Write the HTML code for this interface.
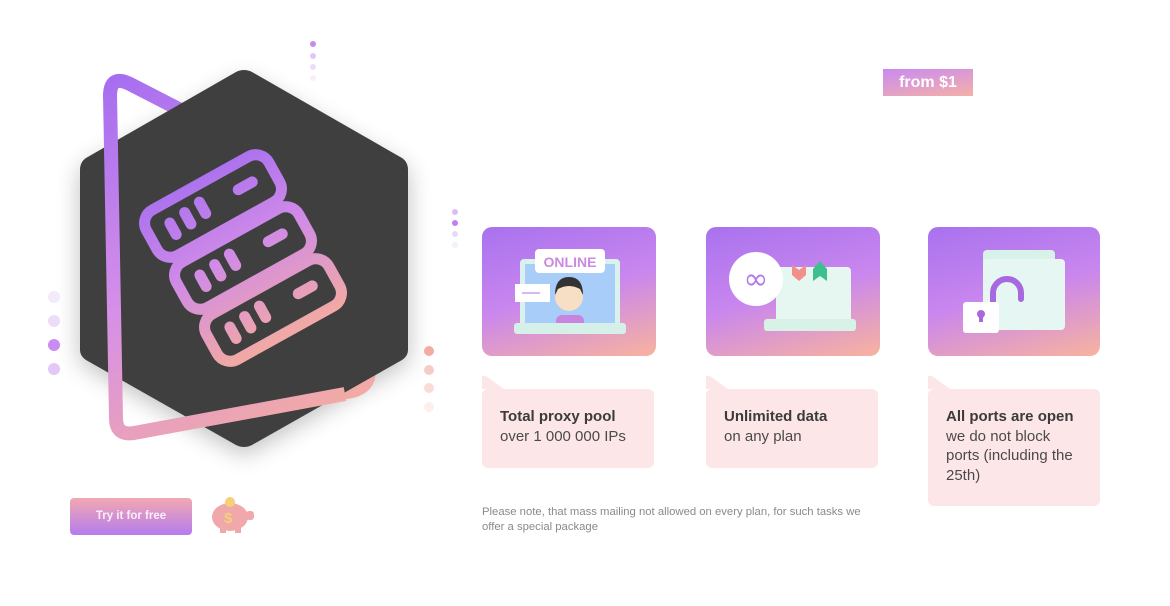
<!DOCTYPE html>
<html><head><meta charset="utf-8"><style>
body{margin:0;width:1170px;height:606px;background:#fff;overflow:hidden;position:relative;font-family:"Liberation Sans",sans-serif}
.card{position:absolute;top:227px;height:129px;border-radius:10px;background:linear-gradient(165deg,#a872ee 0%,#c986ee 50%,#f8b39e 100%)}
.bub{position:absolute;top:376px}
.bub .b{position:absolute;top:13px;left:0;right:0;bottom:0;background:#fde6e8;border-radius:6px}
.bub .t{position:absolute;left:0;top:0;width:4px;height:0;border-bottom:13px solid #fde6e8;border-right:18px solid transparent}
.bub p{position:relative;margin:0;padding:31px 18px 0;font-size:15px;line-height:19.5px;color:#4a4a4a}
.bub p b{color:#3b3b3b}
</style></head><body>
<svg width="480" height="480" style="position:absolute;left:0;top:0">
<defs>
<linearGradient id="g" gradientUnits="userSpaceOnUse" x1="110" y1="80" x2="300" y2="440"><stop offset="0" stop-color="#a66ef0"/><stop offset="0.5" stop-color="#d58fe8"/><stop offset="1" stop-color="#f4aca0"/></linearGradient>
<linearGradient id="g2" gradientUnits="userSpaceOnUse" x1="200" y1="160" x2="300" y2="345"><stop offset="0" stop-color="#a66ef0"/><stop offset="0.45" stop-color="#cf8ae8"/><stop offset="1" stop-color="#f6ad9c"/></linearGradient>
<filter id="sh" x="-30%" y="-30%" width="160%" height="160%"><feGaussianBlur stdDeviation="12"/></filter>
<mask id="rm" maskUnits="userSpaceOnUse" x="0" y="0" width="480" height="480">
<g fill="none" stroke="#fff" stroke-width="11" stroke-linecap="round">
<g transform="translate(213,206) rotate(-29)"><rect x="-70" y="-26" width="140" height="52" rx="15"/><line x1="-46" y1="-6" x2="-46" y2="7"/><line x1="-28" y1="-8" x2="-28" y2="5"/><line x1="-10" y1="-10" x2="-10" y2="3"/><line x1="30" y1="-2" x2="46" y2="-2"/></g>
<g transform="translate(243,258) rotate(-29)"><rect x="-70" y="-26" width="140" height="52" rx="15"/><line x1="-46" y1="-6" x2="-46" y2="7"/><line x1="-28" y1="-8" x2="-28" y2="5"/><line x1="-10" y1="-10" x2="-10" y2="3"/><line x1="30" y1="-2" x2="46" y2="-2"/></g>
<g transform="translate(273,310) rotate(-29)"><rect x="-70" y="-26" width="140" height="52" rx="15"/><line x1="-46" y1="-6" x2="-46" y2="7"/><line x1="-28" y1="-8" x2="-28" y2="5"/><line x1="-10" y1="-10" x2="-10" y2="3"/><line x1="30" y1="-2" x2="46" y2="-2"/></g>
</g></mask>
</defs>
<polygon points="244,78 408,171 408,362 244,455 80,362 80,171" fill="#000" opacity="0.25" filter="url(#sh)"/>
<path d="M200,120 L130,84 Q110,74 110,96" fill="none" stroke="url(#g)" stroke-width="14" stroke-linecap="round"/>
<path d="M300,400 L352,391 Q372,386 368,366 L364,350" fill="none" stroke="url(#g)" stroke-width="14" stroke-linejoin="round"/>
<path d="M244,70 Q248,70 252,72 L402,158 Q408,162 408,170 L408,350 Q408,356 402,360 L252,445 Q244,449 236,445 L86,360 Q80,356 80,350 L80,170 Q80,162 86,158 L236,72 Q240,70 244,70 Z" fill="#3f3f3f"/>
<path d="M110,94 L116,418 Q116,436 134,433 L345,394" fill="none" stroke="url(#g)" stroke-width="14" stroke-linejoin="round"/>
<rect x="0" y="0" width="480" height="480" fill="url(#g2)" mask="url(#rm)"/>
<g><circle cx="313" cy="44" r="3" fill="#c78af0"/><circle cx="313" cy="56" r="3" fill="#e2c6f6"/><circle cx="313" cy="67" r="3" fill="#eedcf8"/><circle cx="313" cy="78" r="3" fill="#f7f0fb"/>
<circle cx="455" cy="212" r="3" fill="#dcbcf4"/><circle cx="455" cy="223" r="3" fill="#c27ff0"/><circle cx="455" cy="234" r="3" fill="#ead8f8"/><circle cx="455" cy="245" r="3" fill="#f6eefb"/>
<circle cx="54" cy="297" r="6" fill="#f4ebfa"/><circle cx="54" cy="321" r="6" fill="#ecdcf8"/><circle cx="54" cy="345" r="6" fill="#c98cf2"/><circle cx="54" cy="369" r="6" fill="#e2c8f6"/>
<circle cx="429" cy="351" r="5" fill="#f2aca4"/><circle cx="429" cy="370" r="5" fill="#f6cdc6"/><circle cx="429" cy="388" r="5" fill="#fadcd7"/><circle cx="429" cy="407" r="5" fill="#fcefec"/></g>
</svg>
<div style="position:absolute;left:70px;top:498px;width:122px;height:37px;border-radius:4px;background:linear-gradient(#f2a8b0,#b57cee);color:#fbeefa;font-weight:bold;font-size:11.5px;line-height:37px;text-align:center">Try it for free</div>
<svg width="50" height="40" style="position:absolute;left:208px;top:495px"><ellipse cx="22" cy="22" rx="18" ry="14" fill="#f1a8aa"/><circle cx="22" cy="7" r="5" fill="#f6cf78"/><rect x="12" y="30" width="6" height="8" fill="#f1a8aa"/><rect x="27" y="30" width="6" height="8" fill="#f1a8aa"/><rect x="38" y="16" width="8" height="9" rx="3" fill="#f1a8aa"/><text x="16" y="28" font-size="15" font-weight="bold" fill="#f6cf78" font-family="Liberation Sans">$</text></svg>
<div style="position:absolute;left:883px;top:69px;width:90px;height:27px;background:linear-gradient(170deg,#c98af2,#f4b0a8);color:#fff;font-weight:bold;font-size:16px;line-height:27px;text-align:center">from $1</div>
<div class="card" style="left:482px;width:174px">
<svg width="174" height="129"><rect x="38" y="32" width="100" height="68" rx="4" fill="#d9f2ee"/><rect x="43" y="37" width="90" height="62" fill="#a8cdf8"/><rect x="53" y="22" width="70" height="24" rx="4" fill="#fff"/><text x="88" y="40" font-size="14" font-weight="bold" text-anchor="middle" fill="#c98ae0" font-family="Liberation Sans">ONLINE</text><rect x="33" y="57" width="35" height="18" fill="#fff"/><rect x="40" y="65" width="18" height="2" fill="#d9b8f0"/><circle cx="87" cy="70" r="14" fill="#f7dfc6"/><path d="M73,68 Q73,50 87,50 Q101,50 101,68 L98,62 Q87,56 76,62 Z" fill="#333"/><rect x="74" y="88" width="28" height="14" rx="6" fill="#c884e0"/><rect x="32" y="96" width="112" height="11" rx="3" fill="#d4f0e8"/></svg></div>
<div class="card" style="left:706px;width:174px">
<svg width="174" height="129"><rect x="70" y="40" width="75" height="60" rx="4" fill="#e6f6f0"/><rect x="58" y="92" width="92" height="12" rx="3" fill="#d8f2e8"/><circle cx="50" cy="52" r="27" fill="#fff"/><text x="50" y="62" font-size="30" text-anchor="middle" fill="#b57ae8" font-family="DejaVu Sans">∞</text><path d="M86,38 L86,48 L93,54 L100,48 L100,38 L93,43 Z" fill="#f38f8a"/><path d="M107,54 L107,42 L114,34 L121,42 L121,54 L114,49 Z" fill="#3dc08d"/></svg></div>
<div class="card" style="left:928px;width:172px">
<svg width="172" height="129"><rect x="55" y="23" width="72" height="80" rx="4" fill="#d8f2ea"/><rect x="55" y="32" width="82" height="71" rx="4" fill="#e6f6f2"/><path d="M65,76 L65,66 A14,14 0 0 1 93,66 L93,72" fill="none" stroke="#a868e0" stroke-width="6" stroke-linecap="round"/><rect x="35" y="75" width="36" height="31" rx="3" fill="#fff"/><circle cx="53" cy="87" r="4" fill="#a868e0"/><rect x="51" y="87" width="4" height="8" fill="#a868e0"/></svg></div>
<div class="bub" style="left:482px;width:172px;height:92px"><div class="t"></div><div class="b"></div><p><b>Total proxy pool</b><br>over 1 000 000 IPs</p></div>
<div class="bub" style="left:706px;width:172px;height:92px"><div class="t"></div><div class="b"></div><p><b>Unlimited data</b><br>on any plan</p></div>
<div class="bub" style="left:928px;width:172px;height:130px"><div class="t"></div><div class="b"></div><p><b>All ports are open</b><br>we do not block ports (including the 25th)</p></div>
<div style="position:absolute;left:482px;top:505px;width:400px;font-size:11.3px;line-height:15px;color:#8a8a8a">Please note, that mass mailing not allowed on every plan, for such tasks we offer a special package</div>
</body></html>
